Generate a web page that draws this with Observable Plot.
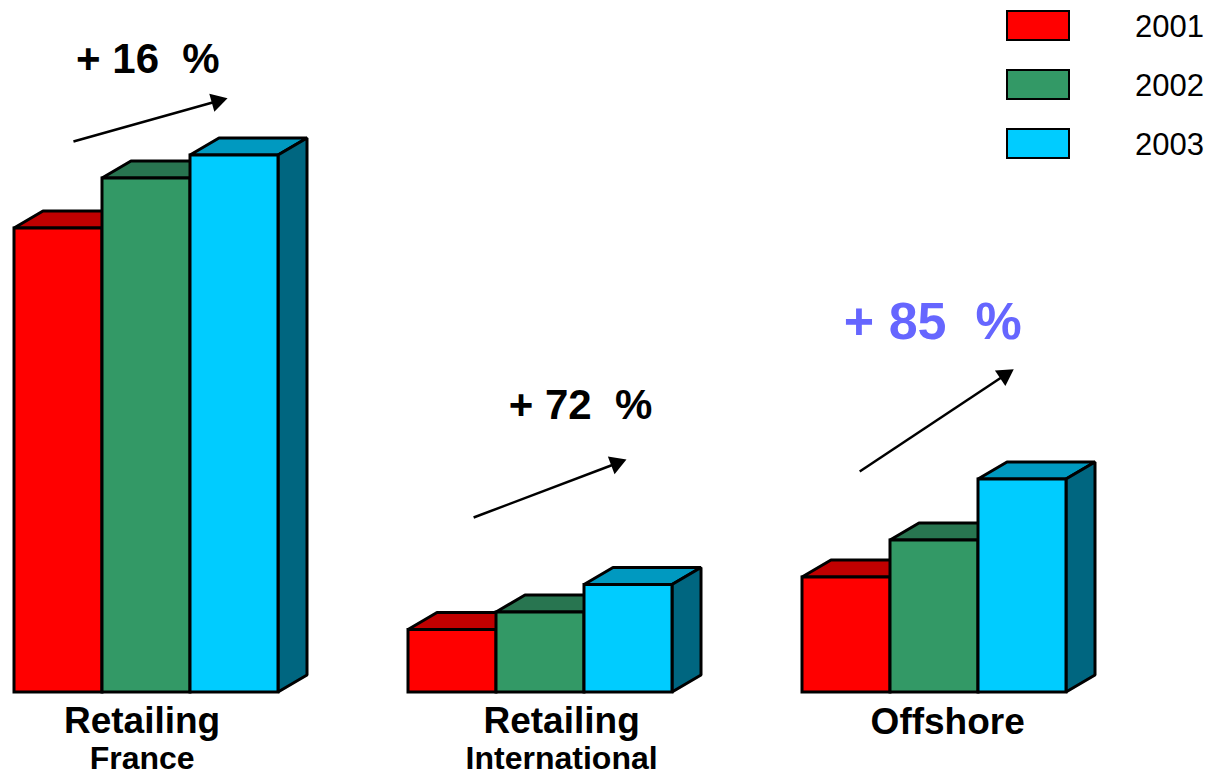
<!DOCTYPE html>
<html>
<head>
<meta charset="utf-8">
<script src="https://cdn.jsdelivr.net/npm/d3@7"></script>
<script src="https://cdn.jsdelivr.net/npm/@observablehq/plot@0.6"></script>
<style>
  body { margin: 0; background: #fff; font-family: "Liberation Sans", Arial, sans-serif; }
  #wrap { position: relative; width: 1213px; height: 774px; overflow: hidden; }
  #chart { position: absolute; left: 0; top: 0; }
  .legend { position: absolute; left: 1006px; top: 10px; width: 207px; height: 160px; }
  .row { position: absolute; left: 0; width: 207px; height: 32px; }
  .sw { position: absolute; left: 0; top: 0; width: 60px; height: 27px; border: 2px solid #000; }
  .lab { position: absolute; left: 129px; top: 2px; font-size: 31px; line-height: 30px; color: #000; }
</style>
</head>
<body>
<div id="wrap">
  <div id="chart"></div>
  <div class="legend" id="legend"></div>
</div>
<script>
// Business lines and yearly figures (relative volume)
const groupTitles = ["Retailing", "Retailing", "Offshore"];
const groupSubtitles = ["France", "International", ""];
const years = ["2001", "2002", "2003"];
const values2001 = [464, 62.5, 115];
const values2002 = [514, 80, 152];
const values2003 = [537, 107.5, 213];

// Face colours for each year: front, top, right side
const frontColors = ["#ff0000", "#339966", "#00ccff"];
const topColors = ["#c00000", "#287550", "#0099c0"];
const sideColors = ["#800000", "#1d5a3c", "#006680"];
const growthColors = ["#000000", "#000000", "#6666ff"];

const series = [values2001, values2002, values2003];

// Geometry in scale units (x: one bar width = 1; y: value units)
const pxPerX = 88, pxPerY = 1, x0px = 14, baseline = 692;
const groupPitch = 394 / pxPerX;
const depthX = 29 / pxPerX, depthY = 17;

// Annotation placement, relative to each group's left edge
const annotationLayout = [
  {labelX: 0.70, labelY: 620, fontSize: 42, fromX: 0.67, fromY: 551, toX: 2.455, toY: 595, titleShift: -0.05},
  {labelX: 1.14, labelY: 274, fontSize: 42, fromX: 0.74, fromY: 175, toX: 2.51, toY: 234, titleShift: 0.24},
  {labelX: 0.47, labelY: 354, fontSize: 52, fromX: 0.65, fromY: 221, toX: 2.43, toY: 325, titleShift: 0.15}
];

const bars = [];
groupTitles.forEach((g, gi) => {
  years.forEach((yr, yi) => {
    bars.push({id: `${gi}-${yi}`, gi, yi, year: yr, left: gi * groupPitch + yi, value: series[yi][gi]});
  });
});

// Top face: parallelogram between the front-top edge and the receding back edge
const topRows = bars.flatMap(b => [
  {id: b.id, yi: b.yi, y: b.value, x1: b.left, x2: b.left + 1},
  {id: b.id, yi: b.yi, y: b.value + depthY, x1: b.left + depthX, x2: b.left + 1 + depthX}
]);
// Right side face
const sideRows = bars.flatMap(b => [
  {id: b.id, yi: b.yi, x: b.left + 1, y1: 0, y2: b.value},
  {id: b.id, yi: b.yi, x: b.left + 1 + depthX, y1: depthY, y2: b.value + depthY}
]);

// Growth 2001 -> 2003 per group, with arrows
const headR = 9;
const groups = groupTitles.map((t, gi) => {
  const L = annotationLayout[gi];
  const start = gi * groupPitch;
  const growth = Math.round((values2003[gi] / values2001[gi] - 1) * 100);
  // arrowhead direction in pixels
  const dxp = (L.toX - L.fromX) * pxPerX, dyp = -(L.toY - L.fromY) * pxPerY;
  const len = Math.hypot(dxp, dyp);
  const back = 1.555 * headR;
  return {
    gi, title: t, subtitle: groupSubtitles[gi], growth,
    label: `+ ${growth}\u00a0\u00a0%`,
    labelX: start + L.labelX, labelY: L.labelY, fontSize: L.fontSize, color: growthColors[gi],
    x1: start + L.fromX, y1: L.fromY,
    headX: start + L.toX - (dxp / len) * back / pxPerX,
    headY: L.toY + (dyp / len) * back / pxPerY,
    angle: Math.atan2(dxp, -dyp) * 180 / Math.PI,
    center: start + 1.5 + L.titleShift
  };
});

const font = '"Liberation Sans", Arial, Helvetica, sans-serif';
const edge = {stroke: "#000", strokeWidth: 3, strokeLinejoin: "miter"};

const plot = Plot.plot({
  width: 1213,
  height: 774,
  marginTop: 0,
  marginLeft: 0,
  marginRight: 0,
  marginBottom: 774 - baseline,
  style: {fontFamily: font, background: "transparent", overflow: "visible"},
  x: {domain: [-x0px / pxPerX, (1213 - x0px) / pxPerX], axis: null},
  y: {domain: [0, baseline / pxPerY], axis: null},
  color: {type: "identity"},
  marks: [
    Plot.areaX(topRows, {y: "y", x1: "x1", x2: "x2", z: "id", fill: d => topColors[d.yi], ...edge}),
    Plot.areaY(sideRows, {x: "x", y1: "y1", y2: "y2", z: "id", fill: d => sideColors[d.yi], ...edge}),
    Plot.rect(bars, {x1: "left", x2: d => d.left + 1, y1: 0, y2: "value", fill: d => frontColors[d.yi], ...edge}),
    // growth arrows
    Plot.link(groups, {x1: "x1", y1: "y1", x2: "headX", y2: "headY", stroke: "#000", strokeWidth: 2.5}),
    Plot.dot(groups, {x: "headX", y: "headY", symbol: "triangle2", r: headR, fill: "#000", rotate: "angle"}),
    // growth labels
    ...groups.map(g => Plot.text([g], {
      x: "labelX", y: "labelY", text: "label", textAnchor: "start", lineAnchor: "bottom",
      fontSize: g.fontSize, fontWeight: "bold", fill: g.color
    })),
    // category labels
    Plot.text(groups, {x: "center", y: d => d.subtitle ? -40 : -41, text: "title", textAnchor: "middle", lineAnchor: "bottom", fontSize: 37, fontWeight: "bold", fill: "#000"}),
    Plot.text(groups.filter(d => d.subtitle), {x: "center", y: -76, text: "subtitle", textAnchor: "middle", lineAnchor: "bottom", fontSize: 32, fontWeight: "bold", fill: "#000"})
  ]
});
document.getElementById("chart").appendChild(plot);

// Year legend
const legend = document.getElementById("legend");
years.forEach((yr, i) => {
  const row = document.createElement("div");
  row.className = "row";
  row.style.top = (i * 59) + "px";
  row.innerHTML = `<div class="sw" style="background:${frontColors[i]}"></div><div class="lab">${yr}</div>`;
  legend.appendChild(row);
});
</script>
</body>
</html>
